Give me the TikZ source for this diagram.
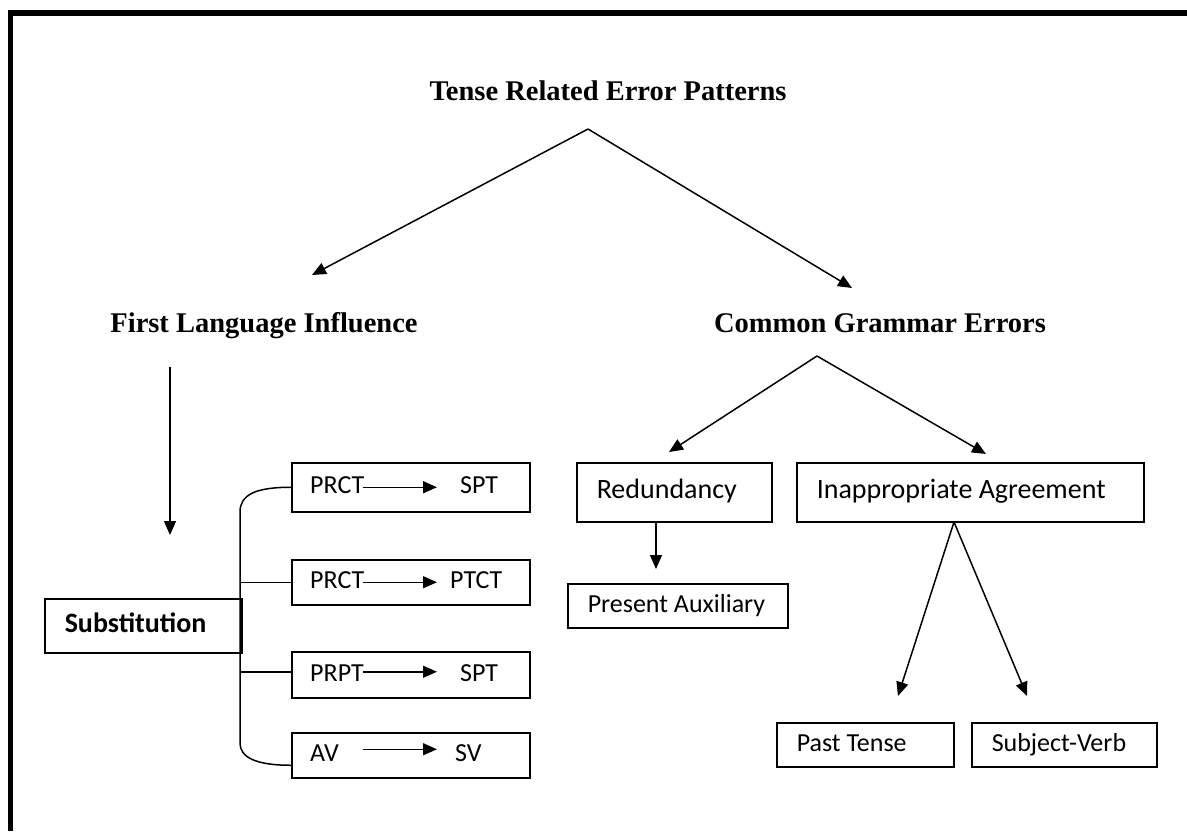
\documentclass[tikz,border=0pt]{standalone}
\usepackage{fontspec}
\setmainfont{Liberation Serif}
\newfontfamily\boxfont{Carlito}
\usetikzlibrary{arrows.meta, positioning, calc}

\begin{document}
\begin{tikzpicture}[x=1pt, y=-1pt,
      head/.style={font=\fontsize{28.5}{32}\selectfont\bfseries, inner sep=0pt},
      box/.style={rectangle, draw, line width=1.5pt, inner xsep=20pt, inner ysep=0pt, anchor=north west, align=flush left, text height=19pt, text depth=6pt, font=\boxfont\fontsize{26}{30}\selectfont},
      bigbox/.style={box, text height=20pt, text depth=7pt, font=\boxfont\fontsize{28}{32}\selectfont},
      tag/.style={inner sep=0pt, text height=19pt, text depth=6pt, font=\boxfont\fontsize{26}{30}\selectfont},
      arr/.style={-{Triangle[length=14pt, width=12pt]}, line width=1.5pt}]

      \useasboundingbox (0,0) rectangle (1187,831);
      \draw[line width=5.5pt] (10.3,831) -- (10.3,12.8) -- (1187,12.8);

      % Headings
      \node[head, anchor=base] (root) at (608,100) {Tense Related Error Patterns};
      \node[head, anchor=base] (fli) at (264,332) {First Language Influence};
      \node[head, anchor=base] (cge) at (880,332) {Common Grammar Errors};

      % Boxes
      \node[bigbox, text width=157pt, minimum height=54pt, font=\boxfont\fontsize{28}{32}\selectfont\bfseries] (subst) at (44,598) {Substitution};
      \node[box, minimum width=238pt, minimum height=49pt] (pr1) at (291,462) {};
      \node[box, minimum width=238pt, minimum height=45pt] (pr2) at (291,559) {};
      \node[box, minimum width=238pt, minimum height=46pt] (pr3) at (291,651) {};
      \node[box, minimum width=238pt, minimum height=45pt] (pr4) at (291,732) {};
      \node[bigbox, text width=155pt, minimum height=59pt] (redund) at (576,462) {Redundancy};
      \node[box, text width=180pt, minimum height=44pt] (presaux) at (567,583) {\mbox{Present Auxiliary}};
      \node[bigbox, text width=307pt, minimum height=59pt] (inapp) at (796,462) {\mbox{Inappropriate Agreement}};
      \node[box, text width=137pt, minimum height=44pt] (past) at (776,722) {\mbox{Past Tense}};
      \node[box, text width=145pt, minimum height=44pt] (subjv) at (971,722) {Subject-Verb};

      \foreach \p/\l/\r/\rx/\ay in {pr1/PRCT/SPT/169/0, pr2/PRCT/PTCT/159/0, pr3/PRPT/SPT/169/3, pr4/AV/SV/164/6} {
        \node[tag, anchor=west] (\p-l) at ([xshift=19pt]\p.west) {\l};
        \node[tag, anchor=west] (\p-r) at ([xshift=\rx pt]\p.west) {\r};
        \draw[arr] ([xshift=72pt, yshift=\ay pt]\p.west) -- ([xshift=146pt, yshift=\ay pt]\p.west);
      }

      % Arrows
      \coordinate (rootfork) at (588,129);
      \coordinate (flitip) at (312,275);
      \coordinate (cgetip) at (852,288);
      \draw[arr] (rootfork) -- (flitip);
      \draw[arr] (rootfork) -- (cgetip);

      \coordinate (flitop) at (170,367);
      \coordinate (flidown) at (170,535);
      \draw[arr] (flitop) -- (flidown);

      \coordinate (cgefork) at (817,356);
      \coordinate (redtip) at (669,452);
      \coordinate (inatip) at (986,454);
      \draw[arr] (cgefork) -- (redtip);
      \draw[arr] (cgefork) -- (inatip);

      \coordinate (redout) at (656,521);
      \coordinate (auxtip) at (656,569);
      \draw[arr] (redout) -- (auxtip);

      \coordinate (inafork) at (954,522);
      \coordinate (pasttip) at (898,696);
      \coordinate (svtip) at (1027,696);
      \draw[arr] (inafork) -- (pasttip);
      \draw[arr] (inafork) -- (svtip);

      % Bracket
      \coordinate (brtop) at (240,512);
      \coordinate (brbot) at (240,743);
      \draw[line width=1.5pt] (pr1.west) .. controls +(-36,0) and +(0,-17) .. (brtop) -- (brbot)
        .. controls +(0,14) and +(-36,0) .. ([yshift=-10pt]pr4.west);
      \draw[line width=1.5pt] (pr2.west) -- (pr2.west -| brtop);
      \draw[line width=1.5pt] ([yshift=3pt]pr3.west) -- ([yshift=3pt]pr3.west -| brtop);
    \end{tikzpicture}
\end{document}
